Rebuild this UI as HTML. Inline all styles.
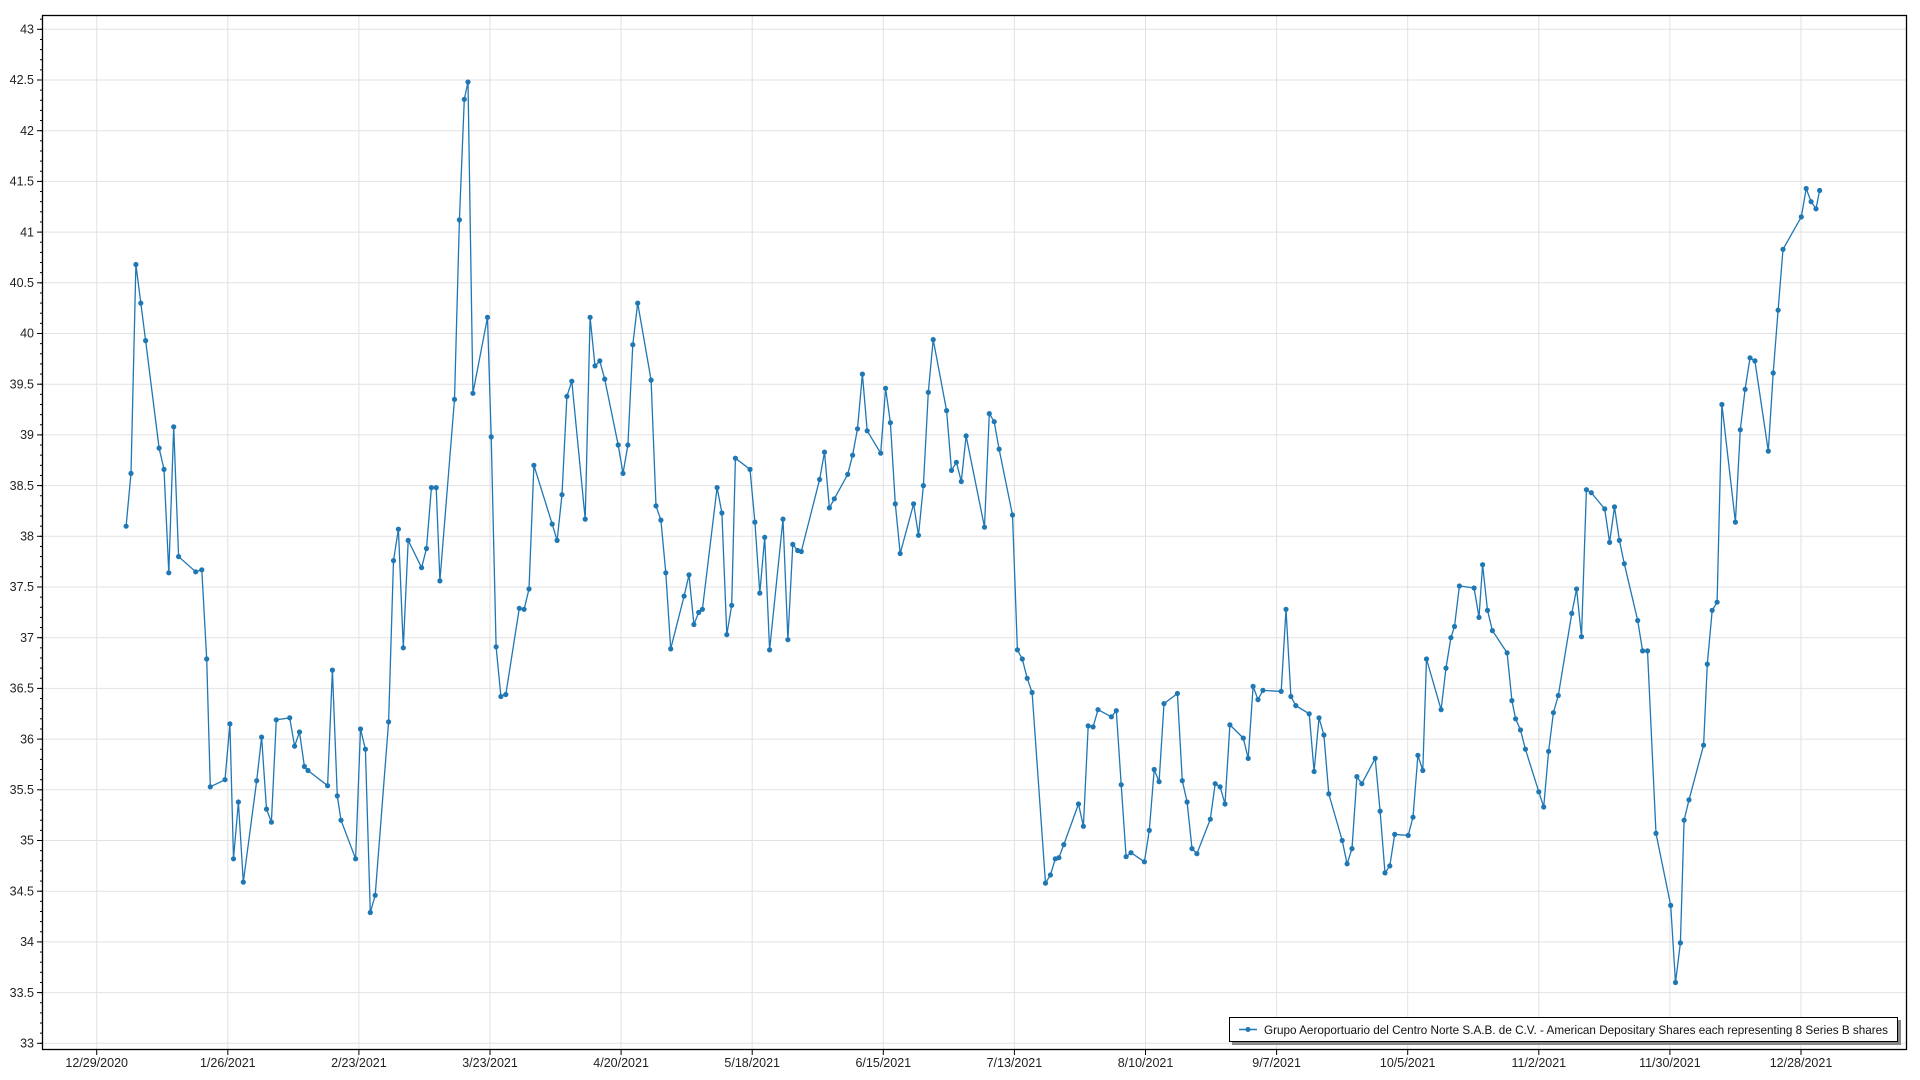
<!DOCTYPE html>
<html><head><meta charset="utf-8"><style>
html,body{margin:0;padding:0;background:#fff;}
svg{display:block;font-family:"Liberation Sans",sans-serif;}
</style></head><body>
<svg id="c" width="1920" height="1080" viewBox="0 0 1920 1080">
<rect width="1920" height="1080" fill="#fff"/>
<g id="grid" stroke="#e2e2e2" stroke-width="1"></g>
<g id="ticks" stroke="#000" stroke-width="1"></g>
<g font-size="12.5" fill="#222" text-anchor="end">
<text x="34" y="33.5">43</text><text x="34" y="84.2">42.5</text><text x="34" y="134.9">42</text><text x="34" y="185.6">41.5</text><text x="34" y="236.3">41</text><text x="34" y="287">40.5</text><text x="34" y="337.7">40</text><text x="34" y="388.4">39.5</text><text x="34" y="439.1">39</text><text x="34" y="489.8">38.5</text><text x="34" y="540.5">38</text><text x="34" y="591.2">37.5</text><text x="34" y="641.9">37</text><text x="34" y="692.6">36.5</text><text x="34" y="743.3">36</text><text x="34" y="794">35.5</text><text x="34" y="844.7">35</text><text x="34" y="895.4">34.5</text><text x="34" y="946.1">34</text><text x="34" y="996.8">33.5</text><text x="34" y="1047.5">33</text>
</g>
<g font-size="12.5" fill="#222" text-anchor="middle">
<text x="96.7" y="1067">12/29/2020</text><text x="227.8" y="1067">1/26/2021</text><text x="358.9" y="1067">2/23/2021</text><text x="490" y="1067">3/23/2021</text><text x="621.1" y="1067">4/20/2021</text><text x="752.2" y="1067">5/18/2021</text><text x="883.3" y="1067">6/15/2021</text><text x="1014.4" y="1067">7/13/2021</text><text x="1145.5" y="1067">8/10/2021</text><text x="1276.6" y="1067">9/7/2021</text><text x="1407.7" y="1067">10/5/2021</text><text x="1538.8" y="1067">11/2/2021</text><text x="1669.9" y="1067">11/30/2021</text><text x="1801" y="1067">12/28/2021</text>
</g>
<rect x="42.5" y="15.5" width="1864" height="1034" fill="none" stroke="#000" stroke-width="1.3"/>
<path id="line" fill="none" stroke="#1f77b4" stroke-width="1.3"/>
<g id="dots" fill="#1f77b4"></g>
<rect x="1232" y="1020" width="669" height="25" fill="#888"/>
<rect x="1229.5" y="1017.5" width="668" height="24" fill="#fff" stroke="#000" stroke-width="1"/>
<line x1="1239" y1="1029.5" x2="1257" y2="1029.5" stroke="#1f77b4" stroke-width="1.5"/>
<circle cx="1248" cy="1029.5" r="2.5" fill="#1f77b4"/>
<text x="1264" y="1034" font-size="12.3" fill="#111" textLength="624" lengthAdjust="spacingAndGlyphs">Grupo Aeroportuario del Centro Norte S.A.B. de C.V. - American Depositary Shares each representing 8 Series B shares</text>
</svg>
<script>
var g=document.getElementById('grid'),t=document.getElementById('ticks'),ns='http://www.w3.org/2000/svg';
function L(p,a,b,c,d){var l=document.createElementNS(ns,'line');l.setAttribute('x1',a);l.setAttribute('y1',b);l.setAttribute('x2',c);l.setAttribute('y2',d);p.appendChild(l);}
function Y(v){return 29.3+(43-v)*101.4;}
for(var i=0;i<=20;i++){var y=Y(33+i*0.5);L(g,43,y,1906,y);L(t,37,y,43,y);}
for(var i=0;i<=102;i++){var v=32.9+i*0.1;var y=Y(v);if(y>16&&y<1049)L(t,40,y,43,y);}
for(var k=0;k<14;k++){var x=96.7+k*131.1;L(g,x,16,x,1049);L(t,x,1049,x,1055);}
var d=[103,38.1,107,38.62,111,40.68,115,40.3,119,39.93,130,38.87,134,38.66,138,37.64,142,39.08,146,37.8,160,37.65,165,37.67,169,36.79,172,35.53,184,35.6,188,36.15,191,34.82,195,35.38,199,34.59,210,35.59,214,36.02,218,35.31,222,35.18,226,36.19,237,36.21,241,35.93,245,36.07,249,35.73,252,35.69,268,35.54,272,36.68,276,35.44,279,35.2,291,34.82,295,36.1,299,35.9,303,34.29,307,34.46,318,36.17,322,37.76,326,38.07,330,36.9,334,37.96,345,37.69,349,37.88,353,38.48,357,38.48,360,37.56,372,39.35,376,41.12,380,42.31,383,42.48,387,39.41,399,40.16,402,38.98,406,36.91,410,36.42,414,36.44,425,37.29,429,37.28,433,37.48,437,38.7,452,38.12,456,37.96,460,38.41,464,39.38,468,39.53,479,38.17,483,40.16,487,39.68,491,39.73,495,39.55,506,38.9,510,38.62,514,38.9,518,39.89,522,40.3,533,39.54,537,38.3,541,38.16,545,37.64,549,36.89,560,37.41,564,37.62,568,37.13,572,37.25,575,37.28,587,38.48,591,38.23,595,37.03,599,37.32,602,38.77,614,38.66,618,38.14,622,37.44,626,37.99,630,36.88,641,38.17,645,36.98,649,37.92,653,37.86,656,37.85,671,38.56,675,38.83,679,38.28,683,38.37,694,38.61,698,38.8,702,39.06,706,39.6,710,39.04,721,38.82,725,39.46,729,39.12,733,38.32,737,37.83,748,38.32,752,38.01,756,38.5,760,39.42,764,39.94,775,39.24,779,38.65,783,38.73,787,38.54,791,38.99,806,38.09,810,39.21,814,39.13,818,38.86,829,38.21,833,36.88,837,36.79,841,36.6,845,36.46,856,34.58,860,34.66,864,34.82,867,34.83,871,34.96,883,35.36,887,35.14,891,36.13,895,36.12,899,36.29,910,36.22,914,36.28,918,35.55,922,34.84,926,34.88,937,34.79,941,35.1,945,35.7,949,35.58,953,36.35,964,36.45,968,35.59,972,35.38,976,34.92,980,34.87,991,35.21,995,35.56,999,35.53,1003,35.36,1007,36.14,1018,36.01,1022,35.81,1026,36.52,1030,36.39,1034,36.48,1049,36.47,1053,37.28,1057,36.42,1061,36.33,1072,36.25,1076,35.68,1080,36.21,1084,36.04,1088,35.46,1099,35.0,1103,34.77,1107,34.92,1111,35.63,1115,35.56,1126,35.81,1130,35.29,1134,34.68,1138,34.75,1142,35.06,1153,35.05,1157,35.23,1161,35.84,1165,35.69,1168,36.79,1180,36.29,1184,36.7,1188,37.0,1191,37.11,1195,37.51,1207,37.49,1211,37.2,1214,37.72,1218,37.27,1222,37.07,1234,36.85,1238,36.38,1241,36.2,1245,36.09,1249,35.9,1260,35.48,1264,35.33,1268,35.88,1272,36.26,1276,36.43,1287,37.24,1291,37.48,1295,37.01,1299,38.46,1303,38.43,1314,38.27,1318,37.94,1322,38.29,1326,37.96,1330,37.73,1341,37.17,1345,36.87,1349,36.87,1356,35.07,1368,34.36,1372,33.6,1376,33.99,1379,35.2,1383,35.4,1395,35.94,1398,36.74,1402,37.27,1406,37.35,1410,39.3,1421,38.14,1425,39.05,1429,39.45,1433,39.76,1437,39.73,1448,38.84,1452,39.61,1456,40.23,1460,40.83,1475,41.15,1479,41.43,1483,41.3,1487,41.23,1490,41.41];
var p='',dots=document.getElementById('dots');
for(var i=0;i<d.length;i+=2){var x=(126.1+(d[i]-103)*1.2210).toFixed(1),y=Y(d[i+1]).toFixed(1);p+=(i?'L':'M')+x+' '+y;var c=document.createElementNS(ns,'circle');c.setAttribute('cx',x);c.setAttribute('cy',y);c.setAttribute('r','2.6');dots.appendChild(c);}
document.getElementById('line').setAttribute('d',p);
</script>
</body></html>
